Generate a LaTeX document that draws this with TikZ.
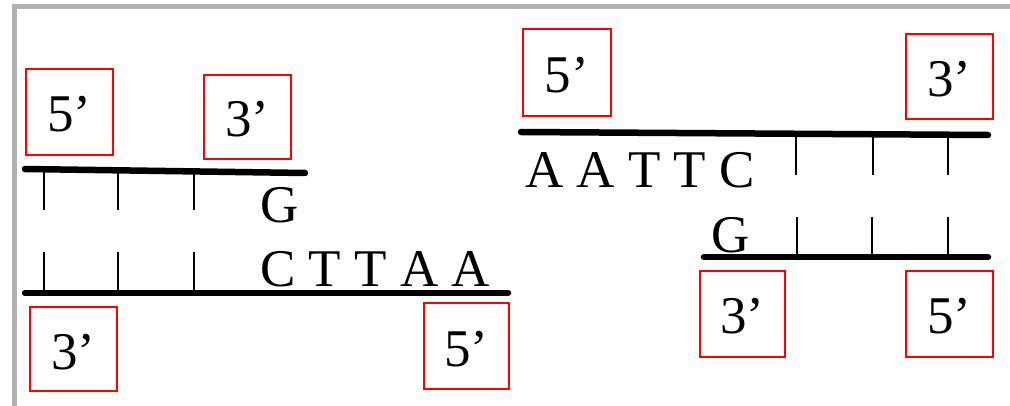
\documentclass[tikz,border=0pt]{standalone}
\usepackage{fontspec}
\setmainfont{Liberation Serif}
\begin{document}
\begin{tikzpicture}[x=1pt,y=-1pt,
  endbox/.style={draw=red, line width=1.6pt, inner sep=0pt, text height=40pt, text depth=0pt,
    font=\fontsize{53}{60}\selectfont},
  strand/.style={line width=6.5pt, line cap=round},
  tick/.style={line width=1.3pt},
  base/.style={anchor=base west, inner sep=0pt, font=\fontsize{53}{60}\selectfont}]
\useasboundingbox[fill=white] (0,0) rectangle (1010,406);
% frame
\draw[black!30, line width=5pt] (14.5,406) -- (14.5,7) -- (1010,7);

% ---- left molecule ----
\node[endbox, minimum width=87pt, minimum height=86pt] (l5a) at (69.5,112) {5’};
\node[endbox, minimum width=87pt, minimum height=84pt] (l3a) at (247.5,117) {3’};
\coordinate (lt1) at (25,169);
\coordinate (lt2) at (305,173);
\draw[strand] (lt1) -- (lt2);
\foreach \x/\y in {44/170, 118/171, 194/172} \draw[tick] (\x,\y) -- (\x,210);
\node[base] (lg) at (260,223) {G};

\node[base] (lctt) at (260,287) {C T T A A};
\coordinate (lb1) at (25,293);
\coordinate (lb2) at (508,293);
\draw[strand] (lb1) -- (lb2);
\foreach \x in {44,118,194} \draw[tick] (\x,252) -- (\x,293);
\node[endbox, minimum width=87pt, minimum height=84pt] (l3b) at (73.5,349) {3’};
\node[endbox, minimum width=85pt, minimum height=86pt] (l5b) at (466.5,346) {5’};

% ---- right molecule ----
\node[endbox, minimum width=88pt, minimum height=87pt] (r5a) at (567,72.5) {5’};
\node[endbox, minimum width=87pt, minimum height=85pt] (r3a) at (949.5,76.5) {3’};
\coordinate (rt1) at (521,132);
\coordinate (rt2) at (988,135);
\draw[strand] (rt1) -- (rt2);
\node[base] (raattc) at (525,188) {A A T T C};
\foreach \x in {796,873,948} \draw[tick] (\x,134) -- (\x,175);

\node[base] (rg) at (711,253) {G};
\coordinate (rb1) at (704,257);
\coordinate (rb2) at (988,257);
\draw[strand] (rb1) -- (rb2);
\foreach \x in {797,872,948} \draw[tick] (\x,217) -- (\x,257);
\node[endbox, minimum width=85pt, minimum height=86pt] (r3b) at (742.5,314) {3’};
\node[endbox, minimum width=87pt, minimum height=86pt] (r5b) at (949.5,314) {5’};
\end{tikzpicture}
\end{document}
